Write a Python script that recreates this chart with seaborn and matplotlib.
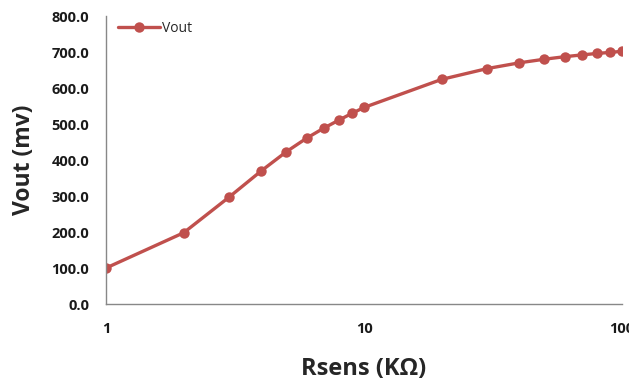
import numpy as np
import pandas as pd
import seaborn as sns
import matplotlib.pyplot as plt
from matplotlib.ticker import FixedLocator, NullLocator, FuncFormatter

rsens = [1, 2, 3, 4, 5, 6, 7, 8, 9, 10, 20, 30, 40, 50, 60, 70, 80, 90, 100]
vout = [100, 198, 297, 370, 423, 461, 489, 511, 530, 546,
        624, 654, 670, 680, 687, 692, 696, 699, 702]
xticks = [1, 10, 100]
yticks = [0, 100, 200, 300, 400, 500, 600, 700, 800]

df = pd.DataFrame({"Rsens": rsens, "Vout": vout})

sns.set_style("white")
plt.rcParams['font.family'] = ['Open Sans', 'DejaVu Sans']

fig = plt.figure(figsize=(6.29, 3.81), dpi=100)
ax = fig.add_axes([0.1685, 0.202, 0.8205, 0.756])

sns.lineplot(data=df, x="Rsens", y="Vout", ax=ax, color="#C0504D",
             marker="o", markersize=7.5, markeredgewidth=0, linewidth=2.4,
             label="Vout")

ax.set_xscale("log")
ax.set_xlim(1, 100)
ax.set_ylim(0, 800)
ax.xaxis.set_major_locator(FixedLocator(xticks))
ax.xaxis.set_minor_locator(NullLocator())
ax.xaxis.set_major_formatter(FuncFormatter(lambda v, p: "%d" % v))
ax.set_yticks(yticks)
ax.yaxis.set_major_formatter(FuncFormatter(lambda v, p: "%.1f" % v))
ax.tick_params(axis="both", length=0, labelsize=10.5, pad=13)
ax.tick_params(axis="y", pad=12)
for lab in ax.get_xticklabels() + ax.get_yticklabels():
    lab.set_fontweight("bold")
    lab.set_color("#1a1a1a")

for s in ["top", "right"]:
    ax.spines[s].set_visible(False)
for s in ["left", "bottom"]:
    ax.spines[s].set_color("#888888")
    ax.spines[s].set_linewidth(1.0)

ax.set_xlabel("Rsens (KΩ)", fontsize=17, fontweight="bold", labelpad=15)
ax.set_ylabel("Vout (mv)", fontsize=16.5, fontweight="bold", labelpad=11)

leg = ax.legend(loc="upper left", frameon=False, fontsize=10,
                handlelength=3.0, handletextpad=0.1,
                bbox_to_anchor=(0.0, 1.025))

fig.savefig("out.png", dpi=100)
